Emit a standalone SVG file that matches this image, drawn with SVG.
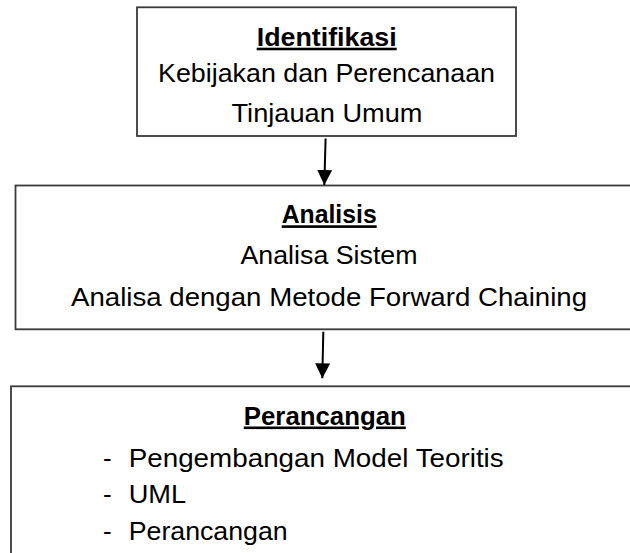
<svg xmlns="http://www.w3.org/2000/svg" width="630" height="553" viewBox="0 0 630 553">
<defs>
<style>
.box{fill:#fff;stroke:#3a3a3a;stroke-width:1.8}
.t{font-family:"Liberation Sans",Arial,sans-serif;font-size:26px;fill:#000}
.h{font-weight:bold;text-decoration:underline}
.c{text-anchor:middle}
.conn{stroke:#000;stroke-width:2;fill:none}
</style>
<marker id="ah" markerUnits="userSpaceOnUse" markerWidth="15" markerHeight="15" refX="15" refY="7.5" orient="auto" viewBox="0 0 15 15">
<path d="M0,0 L15,7.5 L0,15 Z" fill="#000"/>
</marker>
</defs>
<rect width="630" height="553" fill="#fff"/>
<g id="identifikasi">
<rect class="box" x="137" y="7.3" width="379" height="128.7"/>
<text class="t h c" x="326.7" y="45.7" textLength="140" lengthAdjust="spacingAndGlyphs">Identifikasi</text>
<text class="t c" x="326.5" y="81.7" textLength="337" lengthAdjust="spacingAndGlyphs">Kebijakan dan Perencanaan</text>
<text class="t c" x="327" y="121.7" textLength="191" lengthAdjust="spacingAndGlyphs">Tinjauan Umum</text>
</g>
<g id="analisis">
<rect class="box" x="15.5" y="185.5" width="630" height="143.8"/>
<text class="t h c" x="329.2" y="223.3" textLength="95" lengthAdjust="spacingAndGlyphs">Analisis</text>
<text class="t c" x="329" y="264" textLength="177" lengthAdjust="spacingAndGlyphs">Analisa Sistem</text>
<text class="t c" x="329" y="305.7" textLength="516" lengthAdjust="spacingAndGlyphs">Analisa dengan Metode Forward Chaining</text>
</g>
<g id="perancangan">
<rect class="box" x="11" y="386.3" width="630" height="180"/>
<text class="t h c" x="324.8" y="424.5" textLength="162" lengthAdjust="spacingAndGlyphs">Perancangan</text>
<text class="t" x="103" y="466.8">-</text>
<text class="t" x="128.7" y="466.8" textLength="375" lengthAdjust="spacingAndGlyphs">Pengembangan Model Teoritis</text>
<text class="t" x="103" y="503">-</text>
<text class="t" x="128.7" y="503" textLength="57.5" lengthAdjust="spacingAndGlyphs">UML</text>
<text class="t" x="103" y="539.5">-</text>
<text class="t" x="128.7" y="539.5" textLength="159" lengthAdjust="spacingAndGlyphs">Perancangan</text>
</g>
<g id="connectors">
<line class="conn" x1="325.6" y1="138.5" x2="324.3" y2="185" marker-end="url(#ah)"/>
<line class="conn" x1="323.3" y1="331.7" x2="322.3" y2="378.3" marker-end="url(#ah)"/>
</g>
</svg>
